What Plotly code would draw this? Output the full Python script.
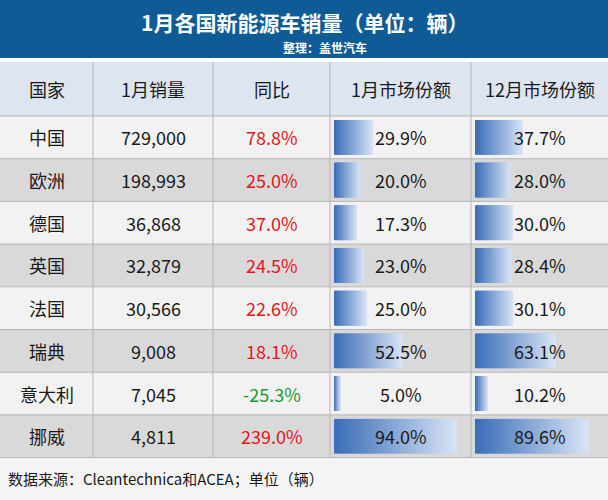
import plotly.graph_objects as go

countries = ["中国","欧洲","德国","英国","法国","瑞典","意大利","挪威"]
sales = [729000,198993,36868,32879,30566,9008,7045,4811]
yoy = [78.8,25.0,37.0,24.5,22.6,18.1,-25.3,239.0]
share_jan = [29.9,20.0,17.3,23.0,25.0,52.5,5.0,94.0]
share_dec = [37.7,28.0,30.0,28.4,30.1,63.1,10.2,89.6]
headers = ["国家","1月销量","同比","1月市场份额","12月市场份额"]

W, H = 608, 500
col_edges = [0, 93, 213, 330, 471, 608]
title_h, head_top, head_bot, row_h = 58, 62, 116, 42.7
FONT = "Noto Sans CJK SC"

fig = go.Figure()
shapes, ann = [], []
shapes.append(dict(type="rect", x0=0, x1=W, y0=0, y1=title_h, fillcolor="#0f5b96", line_width=0, layer="below"))
ann.append(dict(x=W/2, y=22, text="<b>1月各国新能源车销量（单位：辆）</b>", showarrow=False,
                font=dict(size=21, color="white", family=FONT)))
ann.append(dict(x=325, y=47, text="<b>整理：盖世汽车</b>", showarrow=False,
                font=dict(size=12, color="white", family=FONT)))
shapes.append(dict(type="rect", x0=0, x1=W, y0=head_top, y1=head_bot, fillcolor="#dde6f0", line_width=0, layer="below"))
for i, h in enumerate(headers):
    ann.append(dict(x=(col_edges[i]+col_edges[i+1])/2, y=(head_top+head_bot)/2, text=h, showarrow=False,
                    font=dict(size=18, color="#1a1a1a", family=FONT)))

def fmt_pct(v): return f"{v:.1f}%"
for r in range(len(countries)):
    y0 = head_bot + r*row_h; y1 = y0 + row_h; yc = (y0+y1)/2
    bg = "#f2f2f2" if r % 2 == 0 else "#d9d9d9"
    shapes.append(dict(type="rect", x0=0, x1=W, y0=y0, y1=y1, fillcolor=bg, line_width=0, layer="below"))
    shapes.append(dict(type="line", x0=0, x1=W, y0=y0, y1=y0, line=dict(color="#b5b5b5", width=1)))
    for ci, vals in ((3, share_jan), (4, share_dec)):
        x0 = col_edges[ci] + 4; full = col_edges[ci+1] - col_edges[ci] - 10
        bw = full * vals[r] / 100
        n = 40
        for k in range(n):
            t = k / (n-1)
            c = (int(60 + t*(215-60)), int(110 + t*(228-110)), int(185 + t*(245-185)))
            xa = x0 + bw*k/n
            xb = min(x0 + bw*(k+1)/n + 1.5, x0 + bw)
            shapes.append(dict(type="rect", x0=xa, x1=xb, y0=y0+4, y1=y1-4,
                               fillcolor=f"rgb{c}", line=dict(width=0, color=f"rgb{c}"), layer="below"))
    texts = [countries[r], f"{sales[r]:,}", fmt_pct(yoy[r]), fmt_pct(share_jan[r]), fmt_pct(share_dec[r])]
    colors = ["#1a1a1a", "#1a1a1a", "#e8141a" if yoy[r] >= 0 else "#1f9a2a", "#1a1a1a", "#1a1a1a"]
    for i, t in enumerate(texts):
        ann.append(dict(x=(col_edges[i]+col_edges[i+1])/2, y=yc, text=t, showarrow=False,
                        font=dict(size=18, color=colors[i], family=FONT)))
table_bot = head_bot + len(countries)*row_h
for x in col_edges[1:-1]:
    shapes.append(dict(type="line", x0=x, x1=x, y0=head_top, y1=table_bot, line=dict(color="#b5b5b5", width=1)))
shapes.append(dict(type="line", x0=0, x1=W, y0=table_bot, y1=table_bot, line=dict(color="#b5b5b5", width=1)))
shapes.append(dict(type="rect", x0=0, x1=W, y0=table_bot, y1=H, fillcolor="#f4f4f4", line_width=0, layer="below"))
ann.append(dict(x=6, y=(table_bot+H)/2, xanchor="left", text="数据来源：Cleantechnica和ACEA；单位（辆）", showarrow=False,
                font=dict(size=15, color="#1a1a1a", family=FONT)))

fig.update_layout(width=W, height=H, margin=dict(l=0, r=0, t=0, b=0), shapes=shapes, annotations=ann,
                  plot_bgcolor="white", paper_bgcolor="white", showlegend=False,
                  xaxis=dict(range=[0, W], visible=False, fixedrange=True),
                  yaxis=dict(range=[H, 0], visible=False, fixedrange=True))
fig.write_html("out.html", config={"displayModeBar": False},
               post_script="document.body.style.margin='0';document.body.style.overflow='hidden';")
